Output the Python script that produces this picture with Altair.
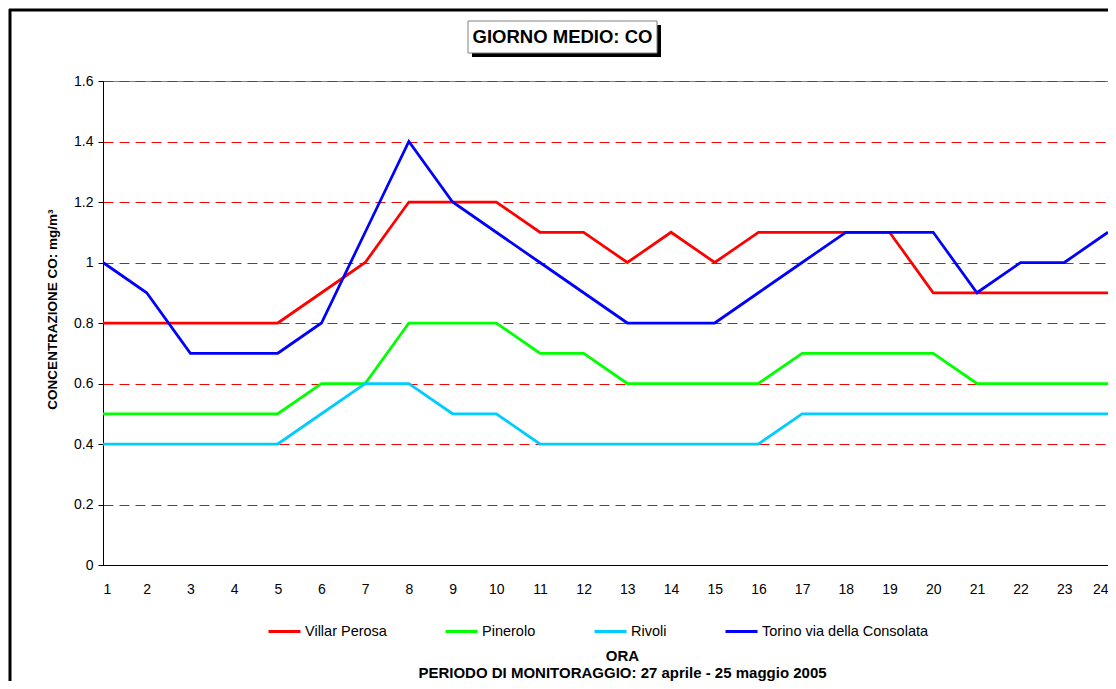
import altair as alt
import pandas as pd

hours = list(range(1, 25))

villar_perosa = [0.8, 0.8, 0.8, 0.8, 0.8, 0.9, 1.0, 1.2, 1.2, 1.2, 1.1, 1.1,
                 1.0, 1.1, 1.0, 1.1, 1.1, 1.1, 1.1, 0.9, 0.9, 0.9, 0.9, 0.9]
pinerolo = [0.5, 0.5, 0.5, 0.5, 0.5, 0.6, 0.6, 0.8, 0.8, 0.8, 0.7, 0.7,
            0.6, 0.6, 0.6, 0.6, 0.7, 0.7, 0.7, 0.7, 0.6, 0.6, 0.6, 0.6]
rivoli = [0.4, 0.4, 0.4, 0.4, 0.4, 0.5, 0.6, 0.6, 0.5, 0.5, 0.4, 0.4,
          0.4, 0.4, 0.4, 0.4, 0.5, 0.5, 0.5, 0.5, 0.5, 0.5, 0.5, 0.5]
torino = [1.0, 0.9, 0.7, 0.7, 0.7, 0.8, 1.1, 1.4, 1.2, 1.1, 1.0, 0.9,
          0.8, 0.8, 0.8, 0.9, 1.0, 1.1, 1.1, 1.1, 0.9, 1.0, 1.0, 1.1]

series_names = ["Villar Perosa", "Pinerolo", "Rivoli", "Torino via della Consolata"]
series_colors = ["#ff0000", "#00ff00", "#00ccff", "#0000ff"]
y_ticks = [0, 0.2, 0.4, 0.6, 0.8, 1, 1.2, 1.4, 1.6]

rows = []
for name, vals in zip(series_names, [villar_perosa, pinerolo, rivoli, torino]):
    for h, v in zip(hours, vals):
        rows.append({"ora": h, "serie": name, "co": v})
df = pd.DataFrame(rows)

W, H = 1005, 484

lines = alt.Chart(df).mark_line(strokeWidth=2.75, clip=False).encode(
    x=alt.X("ora:Q",
            scale=alt.Scale(domain=[1, 24], nice=False),
            axis=alt.Axis(values=hours, format="d", ticks=False, labelPadding=17,
                          labelFontSize=14, labelColor="black",
                          grid=False, domainColor="black",
                          title=["ORA", "PERIODO DI MONITORAGGIO: 27 aprile - 25 maggio 2005"],
                          titleX=519, titleY=90, titleAlign="center",
                          titleBaseline="middle", titleLineHeight=17.5,
                          titleFontSize=15, titleFontWeight="bold", titleColor="black")),
    y=alt.Y("co:Q",
            scale=alt.Scale(domain=[0, 1.6], nice=False),
            axis=alt.Axis(values=y_ticks, format="~g", tickSize=5, labelPadding=5,
                          labelFontSize=14, labelColor="black",
                          tickColor="black", domainColor="black",
                          grid=True, gridColor="#ff0000", gridDash=[10, 6], gridWidth=1,
                          title="CONCENTRAZIONE CO: mg/m³",
                          titleX=-51, titleY=228, titleAngle=270,
                          titleAlign="center", titleBaseline="middle",
                          titleFontSize=13.5, titleFontWeight="bold", titleColor="black")),
    color=alt.Color("serie:N",
                    scale=alt.Scale(domain=series_names, range=series_colors),
                    legend=alt.Legend(title=None, orient="none", direction="horizontal",
                                      legendX=164, legendY=533, symbolType="stroke",
                                      symbolSize=1024, symbolStrokeWidth=3,
                                      labelFontSize=14.5, labelOffset=3, labelLimit=400,
                                      labelColor="black",
                                      columnPadding=52, padding=0)),
)

one = alt.Data(values=[{}])

shadow = alt.Chart(one).mark_rect(color="black").encode(
    x=alt.value(369), x2=alt.value(558), y=alt.value(-56), y2=alt.value(-24))
box = alt.Chart(one).mark_rect(fill="white", stroke="#808080", strokeWidth=1).encode(
    x=alt.value(365), x2=alt.value(554), y=alt.value(-60), y2=alt.value(-28))
title = alt.Chart(one).mark_text(text="GIORNO MEDIO: CO", fontSize=18.5, fontWeight="bold",
                                 align="center", baseline="middle", color="black").encode(
    x=alt.value(459.5), y=alt.value(-44))

frame_top = alt.Chart(one).mark_rule(color="black", strokeWidth=3).encode(
    x=alt.value(-94), x2=alt.value(1005), y=alt.value(-71))
frame_left = alt.Chart(one).mark_rule(color="black", strokeWidth=3).encode(
    x=alt.value(-93), y=alt.value(-72), y2=alt.value(600))

chart = alt.layer(lines, shadow, box, title, frame_top, frame_left).properties(
    width=W, height=H,
    autosize=alt.AutoSizeParams(type="none"),
    padding={"left": 95, "top": 73, "right": 0, "bottom": 116},
).configure(
    font="Liberation Sans",
).configure_view(
    stroke="#808080", strokeWidth=1,
)

chart.save("out.html", embed_options={"renderer": "svg", "actions": False})
